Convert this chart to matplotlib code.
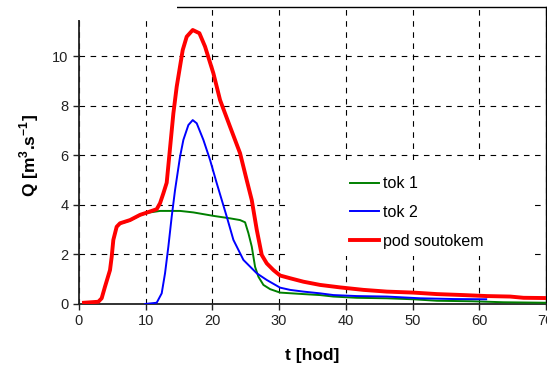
#!/usr/bin/env python3
import numpy as np
import matplotlib.pyplot as plt
from matplotlib.patches import Rectangle

plt.rcParams['font.family'] = ['Liberation Sans', 'DejaVu Sans']
plt.rcParams['mathtext.fontset'] = 'custom'
plt.rcParams['mathtext.rm'] = 'Liberation Sans'
plt.rcParams['mathtext.bf'] = 'Liberation Sans:bold'

# tok 1
t1 = [0.75, 2.9, 3.4, 3.9, 4.65, 4.9, 5.15, 5.65, 6.15, 7.65, 9.15, 10.15, 12.15,
      15.15, 17.15, 20.15, 22.65, 24.15, 24.9, 25.4, 25.9, 26.4, 26.9, 27.65, 28.65,
      30.15, 33.65, 36.15, 38.15, 41.65, 46.15, 50.15, 53.65, 58.9, 63.65, 70.0]
q1 = [0.05, 0.09, 0.23, 0.7, 1.37, 1.9, 2.59, 3.12, 3.24, 3.37, 3.58, 3.68, 3.76,
      3.76, 3.7, 3.56, 3.46, 3.39, 3.3, 2.86, 2.32, 1.5, 1.1, 0.77, 0.6,
      0.46, 0.4, 0.36, 0.3, 0.25, 0.23, 0.19, 0.13, 0.11, 0.07, 0.05]

# tok 2
t2 = [9.9, 11.65, 12.4, 12.9, 13.4, 13.9, 14.4, 15.15, 15.65, 16.4, 17.05, 17.65,
      18.65, 19.65, 20.65, 22.15, 23.15, 24.65, 26.65, 28.15, 30.15, 31.65, 33.65,
      36.15, 38.15, 41.65, 46.15, 51.15, 56.15, 61.05]
q2 = [0.0, 0.05, 0.43, 1.24, 2.32, 3.53, 4.6, 5.95, 6.63, 7.23, 7.43, 7.3,
      6.63, 5.82, 4.88, 3.53, 2.59, 1.78, 1.24, 0.97, 0.66, 0.57, 0.5,
      0.43, 0.36, 0.32, 0.3, 0.23, 0.2, 0.19]

# pod soutokem
t3 = [0.75, 2.9, 3.4, 3.9, 4.65, 4.9, 5.15, 5.65, 6.15, 7.65, 9.15, 10.15, 11.65,
      12.15, 12.65, 13.15, 13.65, 14.15, 14.65, 15.55, 16.15, 17.05, 18.05, 18.9,
      20.15, 21.15, 22.65, 24.15, 25.15, 25.9, 26.65, 27.4, 28.15, 29.15, 30.15,
      31.65, 33.65, 36.15, 39.15, 42.65, 46.15, 50.15, 53.65, 57.65, 61.15, 64.65,
      66.65, 70.0]
q3 = [0.05, 0.09, 0.23, 0.7, 1.37, 1.9, 2.59, 3.12, 3.26, 3.39, 3.6, 3.69, 3.83,
      4.07, 4.47, 4.9, 6.3, 7.7, 8.78, 10.26, 10.8, 11.07, 10.94, 10.4,
      9.32, 8.24, 7.16, 6.09, 5.0, 4.2, 3.0, 1.98, 1.64, 1.37, 1.15,
      1.04, 0.9, 0.77, 0.67, 0.57, 0.5, 0.46, 0.4, 0.36, 0.32, 0.3,
      0.25, 0.24]

fig = plt.figure(figsize=(5.47, 3.67), dpi=100)
ax = fig.add_axes([0.1444, 0.1717, 0.8536, 0.8093])

ax.plot(t1, q1, color='#008000', lw=1.4, label='tok 1', zorder=3)
ax.plot(t2, q2, color='#0000ff', lw=1.4, label='tok 2', zorder=3)
ax.plot(t3, q3, color='#ff0000', lw=2.8, label='pod soutokem', zorder=3)

ax.set_xlim(0, 70)
ax.set_ylim(0, 12)
ax.set_xticks(np.arange(0, 71, 10))
ax.set_yticks(np.arange(0, 11, 2))
ax.grid(True, color='black', linestyle=(0, (5, 5)), linewidth=0.8)
ax.tick_params(labelsize=10.5, length=4, width=1, colors='#222222')

for s in ['left', 'bottom']:
    ax.spines[s].set_linewidth(1.3)
    ax.spines[s].set_color('#222222')
for s in ['top', 'right']:
    ax.spines[s].set_linewidth(1.0)

ax.set_xlabel('t [hod]', fontsize=12.5, fontweight='bold', labelpad=14)
ax.set_ylabel(r'Q [m$^{\mathbf{3}}$.s$^{\mathbf{-1}}$]', fontsize=12.5,
              fontweight='bold', labelpad=8)

# white box over the top-left corner (as in the original)
ax.add_patch(Rectangle((-0.02, 0.956), 0.23, 0.06, transform=ax.transAxes,
                       facecolor='white', edgecolor='none', zorder=10,
                       clip_on=False))
# white legend background hiding the grid
ax.add_patch(Rectangle((0.441, 0.162), 0.525, 0.323, transform=ax.transAxes,
                       facecolor='white', edgecolor='none', zorder=2))

ax.legend(loc='upper left', bbox_to_anchor=(0.58, 0.43), frameon=False,
          fontsize=11.5, handlelength=1.8, handletextpad=0.3,
          labelspacing=0.86, borderpad=0, borderaxespad=0)

fig.savefig('out.png', dpi=100)
